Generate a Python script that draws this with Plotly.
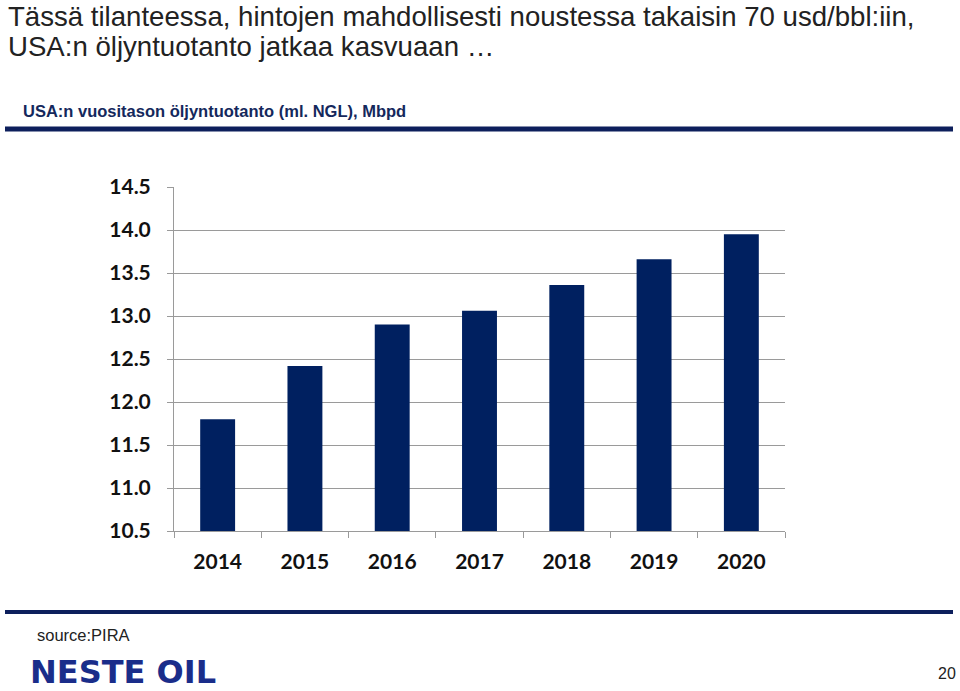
import plotly.graph_objects as go

years = ["2014", "2015", "2016", "2017", "2018", "2019", "2020"]
production = [11.80, 12.42, 12.90, 13.06, 13.36, 13.66, 13.95]
y_ticks = [10.5, 11.0, 11.5, 12.0, 12.5, 13.0, 13.5, 14.0, 14.5]

W, H = 960, 691

def px(x):
    return x / W

def py(y):
    return 1 - y / H

fig = go.Figure()
fig.add_trace(go.Bar(x=years, y=production, marker=dict(color="#002060", line=dict(width=0)),
                     hoverinfo="x+y"))

tick_font = dict(family="Lato", size=21, color="#111111", weight="bold")

fig.update_layout(
    width=W, height=H,
    margin=dict(l=0, r=0, t=0, b=0, autoexpand=False),
    paper_bgcolor="white", plot_bgcolor="white",
    showlegend=False,
    bargap=0.6,
    xaxis=dict(domain=[px(174), px(785)], type="category",
               showline=True, linecolor="#9a9a9a", linewidth=1,
               ticks="outside", tickson="boundaries", ticklen=6, tickcolor="#9a9a9a",
               tickfont=tick_font, ticklabelstandoff=12, automargin=False,
               showgrid=False),
    yaxis=dict(domain=[py(531), py(187)], range=[10.5, 14.5],
               tickvals=y_ticks, ticktext=[f"{v:.1f}" for v in y_ticks],
               showline=True, linecolor="#9a9a9a", linewidth=1,
               ticks="outside", ticklen=6, tickcolor="#9a9a9a",
               showgrid=True, gridcolor="#9a9a9a", gridwidth=1,
               tickfont=tick_font, automargin=False,
               ticklabelstandoff=12, zeroline=False),
)

annotations = [
    dict(text="Tässä tilanteessa, hintojen mahdollisesti noustessa takaisin 70 usd/bbl:iin,",
         x=px(6), y=py(16), xanchor="left", yanchor="middle",
         font=dict(family="Liberation Sans", size=27.6, color="#222222")),
    dict(text="USA:n öljyntuotanto jatkaa kasvuaan …",
         x=px(6), y=py(47), xanchor="left", yanchor="middle",
         font=dict(family="Liberation Sans", size=27.6, color="#222222")),
    dict(text="<b>USA:n vuositason öljyntuotanto (ml. NGL), Mbpd</b>",
         x=px(21), y=py(111), xanchor="left", yanchor="middle",
         font=dict(family="Liberation Sans", size=16.5, color="#14285c")),
    dict(text="source:PIRA",
         x=px(35), y=py(635), xanchor="left", yanchor="middle",
         font=dict(family="Liberation Sans", size=16.5, color="#222222")),
    dict(text="<b>NESTE OIL</b>",
         x=px(28), y=py(672), xanchor="left", yanchor="middle",
         font=dict(family="DejaVu Sans", size=32, color="#1a2d8a")),
    dict(text="20",
         x=px(958), y=py(673), xanchor="right", yanchor="middle",
         font=dict(family="Liberation Sans", size=16, color="#222222")),
]
for a in annotations:
    a.update(xref="paper", yref="paper", showarrow=False)
fig.update_layout(annotations=annotations)

fig.add_shape(type="line", xref="paper", yref="paper", x0=px(5), x1=px(953), y0=py(129), y1=py(129),
              line=dict(color="#0d1f5c", width=5))
fig.add_shape(type="line", xref="paper", yref="paper", x0=px(5), x1=px(953), y0=py(612), y1=py(612),
              line=dict(color="#0d1f5c", width=4))

fig.write_html("out.html", config={"displayModeBar": False},
               post_script="document.body.style.margin='0px';document.body.style.overflow='hidden';")
